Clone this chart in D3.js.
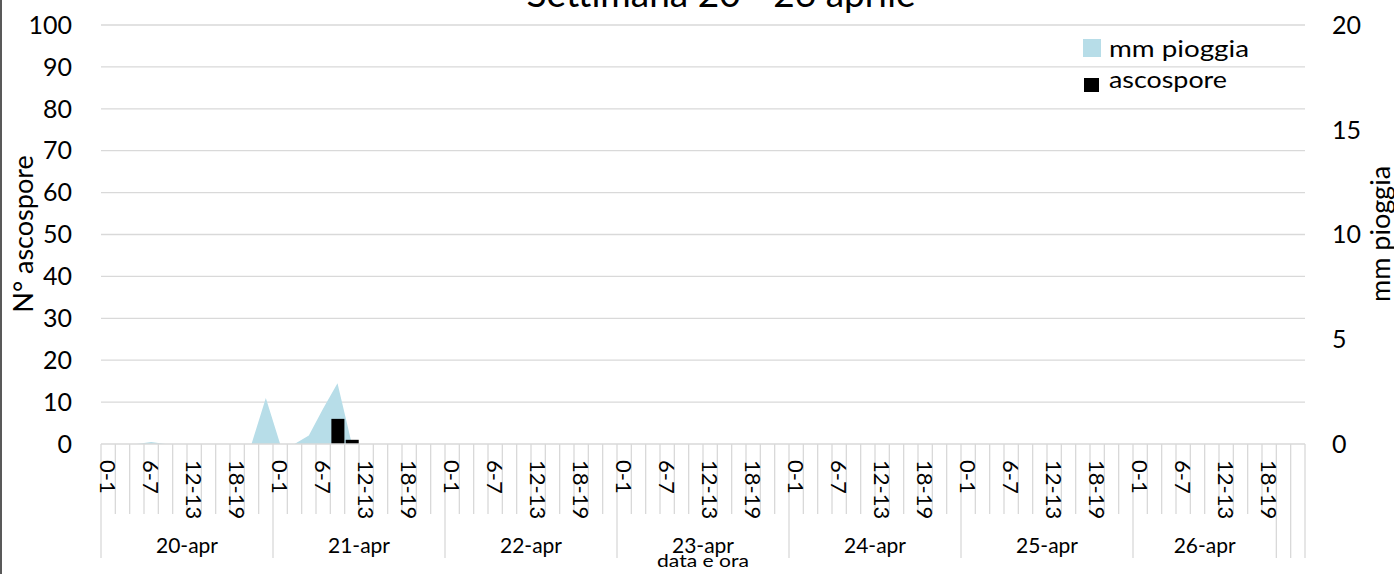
<!DOCTYPE html>
<html>
<head>
<meta charset="utf-8">
<script src="https://cdn.jsdelivr.net/npm/d3@7"></script>
<style>
html,body{margin:0;padding:0;background:#fff;}
svg{display:block;font-family:Lato, "Liberation Sans", sans-serif;}
</style>
</head>
<body>
<svg id="chart" width="1394" height="574"></svg>
<script>
// ---- data ----
const title = "Settimana 20 - 26 aprile";
const days = ["20-apr","21-apr","22-apr","23-apr","24-apr","25-apr","26-apr"];
const slotsPerDay = [12,12,12,12,12,12,10];
const hourSlots = ["0-1","2-3","4-5","6-7","8-9","10-11","12-13","14-15","16-17","18-19","20-21","22-23"];
const shownHourLabels = ["0-1","6-7","12-13","18-19"];
const trailingBlankSlots = 2;
// rain (mm) by category index (non-listed = 0)
const rainIdx = [3, 11, 14, 15, 16];
const rainVal = [0.1, 2.2, 0.4, 1.7, 2.9];
// ascospores by category index
const sporeIdx = [16, 17];
const sporeVal = [6, 1];
const leftTicks = [0,10,20,30,40,50,60,70,80,90,100];
const rightTicks = [0,5,10,15,20];
const seriesNames = ["mm pioggia","ascospore"];
const seriesColors = ["#b7dde8","#000000"];

// ---- build categories ----
const cats = [];
days.forEach((d,di)=>{
  for(let h=0; h<slotsPerDay[di]; h++) cats.push({key:d+"|"+h, day:d, hour:hourSlots[h], dayIdx:di, h:h});
});
for(let b=0;b<trailingBlankSlots;b++) cats.push({key:"blank|"+b, day:"", hour:"", dayIdx:-1, h:-1});
const rain = cats.map(()=>0); rainIdx.forEach((k,i)=>rain[k]=rainVal[i]);
const spores = cats.map(()=>0); sporeIdx.forEach((k,i)=>spores[k]=sporeVal[i]);

const svg = d3.select("#chart");
const L = 101, R = 1305, T = 25, B = 444;
const x = d3.scaleBand().domain(cats.map(c=>c.key)).range([L,R]).paddingInner(0).paddingOuter(0);
const bx = d3.scaleBand().domain(cats.map(c=>c.key)).range([L,R]).padding(0.09);
const yL = d3.scaleLinear().domain([0,100]).range([B,T]);
const yR = d3.scaleLinear().domain([0,20]).range([B,T]);
const grid = "#d9d9d9";

// frame left border
svg.append("rect").attr("x",0).attr("y",0).attr("width",2).attr("height",574).attr("fill","#595959");

// gridlines
svg.append("g").selectAll("line").data(leftTicks.filter(t=>t>0)).join("line")
  .attr("x1",L).attr("x2",R).attr("y1",d=>yL(d)).attr("y2",d=>yL(d))
  .attr("stroke",grid).attr("stroke-width",1.3);

// area
const area = d3.area().x((d,i)=>x(cats[i].key)+x.bandwidth()/2).y0(B).y1(d=>yR(d));
svg.append("path").datum(rain).attr("d",area).attr("fill",seriesColors[0]);

// bars
svg.append("g").selectAll("rect").data(cats.map((c,i)=>({c,v:spores[i]})).filter(d=>d.v>0)).join("rect")
  .attr("x",d=>bx(d.c.key)).attr("width",bx.bandwidth())
  .attr("y",d=>yL(d.v)).attr("height",d=>B-yL(d.v)).attr("fill",seriesColors[1]);

// x axis baseline
svg.append("line").attr("x1",L).attr("x2",R).attr("y1",B).attr("y2",B).attr("stroke",grid).attr("stroke-width",1.3);

// category tick lines
const bounds = d3.range(cats.length+1).map(i=>({x: i<cats.length ? x(cats[i].key) : R, i}));
function isDayBoundary(i){
  if(i===0||i===cats.length) return true;
  const a=cats[i-1], b=cats[i];
  return a.day!==b.day || b.dayIdx===-1;
}
svg.append("g").selectAll("line").data(bounds).join("line")
  .attr("x1",d=>d.x).attr("x2",d=>d.x).attr("y1",B).attr("y2",d=>isDayBoundary(d.i)?558:514)
  .attr("stroke",grid).attr("stroke-width",1.3);

// hour labels
svg.append("g").selectAll("text").data(cats.filter(c=>shownHourLabels.includes(c.hour))).join("text")
  .attr("transform",d=>`translate(${x(d.key)+x.bandwidth()/2},460) rotate(90)`)
  .attr("dy","0.35em").attr("font-size",22).attr("fill","#000").text(d=>d.hour);

// day labels
svg.append("g").selectAll("text").data(days).join("text")
  .attr("x",(d,i)=>{const cs=cats.filter(c=>c.day===d);return (x(cs[0].key)+x(cs[cs.length-1].key)+x.bandwidth())/2;})
  .attr("y",553).attr("text-anchor","middle").attr("font-size",21).text(d=>d);

// x axis title
svg.append("text").attr("x",703).attr("y",567).attr("text-anchor","middle").attr("font-size",17)
  .attr("textLength",92).attr("lengthAdjust","spacingAndGlyphs").text("data e ora");

// left axis labels
svg.append("g").selectAll("text").data(leftTicks).join("text")
  .attr("x",72).attr("y",d=>yL(d)).attr("dy","0.35em").attr("text-anchor","end").attr("font-size",25).text(d=>d);
// right axis labels
svg.append("g").selectAll("text").data(rightTicks).join("text")
  .attr("x",1332).attr("y",d=>yR(d)).attr("dy","0.35em").attr("text-anchor","start").attr("font-size",25).text(d=>d);

// axis titles
svg.append("text").attr("transform","translate(33,234) rotate(-90)").attr("text-anchor","middle").attr("font-size",27).text("N° ascospore");
svg.append("text").attr("transform","translate(1390,234) rotate(-90)").attr("text-anchor","middle").attr("font-size",27).text("mm pioggia");

// title
svg.append("text").attr("x",721).attr("y",7).attr("text-anchor","middle").attr("font-size",37).text(title);

// legend
const lg = svg.append("g");
const keyX = [1083, 1084], keyY = [39, 78], keyW = [18, 15], keyH = [18, 14], textY = [57, 88], textW = [140, 118];
seriesNames.forEach((n,i)=>{
  lg.append("rect").attr("x",keyX[i]).attr("y",keyY[i]).attr("width",keyW[i]).attr("height",keyH[i]).attr("fill",seriesColors[i]);
  lg.append("text").attr("x",1109).attr("y",textY[i]).attr("font-size",24)
    .attr("textLength",textW[i]).attr("lengthAdjust","spacingAndGlyphs").text(n);
});
</script>
</body>
</html>
